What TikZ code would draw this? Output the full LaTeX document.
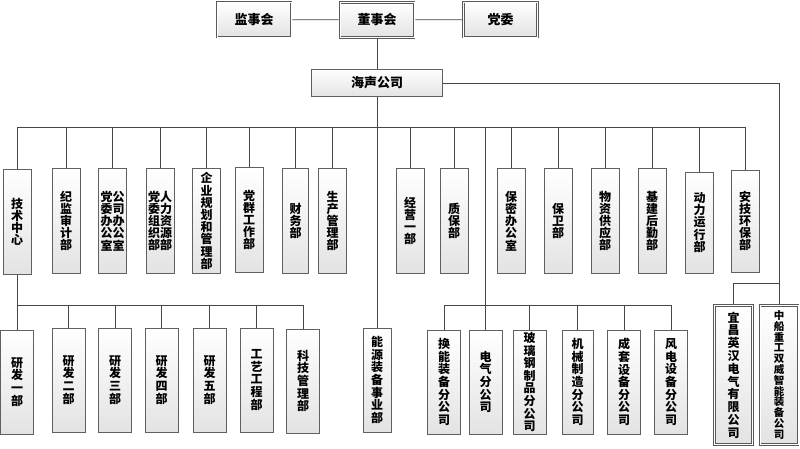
\documentclass[tikz,border=0pt]{standalone}
\usepackage{fontspec}
\setmainfont{Noto Sans CJK SC}
\XeTeXlinebreaklocale "zh"
\XeTeXlinebreakskip=0pt plus 1pt
\newcommand{\vcol}[1]{\parbox{1em}{\centering #1}}
\begin{document}
\begin{tikzpicture}[x=1pt,y=-1pt]
\useasboundingbox[fill=white] (0,0) rectangle (800,449);
\tikzstyle{every node}=[draw=gray!75!black,top color=white,bottom color=gray!22,inner sep=0pt,font=\bfseries]
\tikzstyle{dbl}=[line width=2.6pt,draw=gray!70!black,postaction={draw=white,line width=0.8pt}]
\tikzstyle{head}=[dbl,minimum width=74pt,minimum height=35pt,font=\fontsize{13}{13}\selectfont\bfseries]
\tikzstyle{dept}=[minimum width=28pt,minimum height=105pt,font=\fontsize{12}{12.2}\selectfont\bfseries]
\tikzstyle{unit}=[minimum width=33pt,minimum height=104pt,font=\fontsize{12}{12.6}\selectfont\bfseries]
\tikzstyle{corp}=[dbl,minimum width=38pt,minimum height=139pt]
\tikzstyle{conn}=[draw=gray!55!black,line width=0.8pt]
% top
\node[head](jsh) at (254,19.5) {监事会};
\node[head](dsh) at (377,20) {董事会};
\node[head](dw) at (500.5,19.5) {党委};
\node[line width=1.2pt,minimum width=131pt,minimum height=27pt,font=\fontsize{13}{13}\selectfont\bfseries](hs) at (377,83) {海声公司};
% departments
\node[dept](jszx) at (17,222) {\vcol{技术中心}};
\node[dept](jjsj) at (66,221) {\vcol{纪监审计部}};
\node[dept](gsb) at (112.5,221) {\vcol{党委办公室}\vcol{公司办公室}};
\node[dept](rlzy) at (160,221) {\vcol{党委组织部}\vcol{人力资源部}};
\node[dept](qygh) at (206.5,221) {\vcol{企业规划和管理部}};
\node[dept](dqgz) at (249,220) {\vcol{党群工作部}};
\node[dept,minimum width=26pt](cwb) at (295.5,221) {\vcol{财务部}};
\node[dept](scgl) at (332.5,221) {\vcol{生产管理部}};
\node[dept](jyyb) at (410,221) {\vcol{经营一部}};
\node[dept](zbb) at (454,221) {\vcol{质保部}};
\node[dept](bmb) at (511,221) {\vcol{保密办公室}};
\node[dept](bwb) at (558,221) {\vcol{保卫部}};
\node[dept](wzgy) at (605,221) {\vcol{物资供应部}};
\node[dept](jjhq) at (652,221) {\vcol{基建后勤部}};
\node[dept,minimum height=101pt](dlyx) at (699.5,222.5) {\vcol{动力运行部}};
\node[dept,minimum height=102pt](ajhb) at (745,221) {\vcol{安技环保部}};
% research units
\node[unit](yf1) at (17,382) {\vcol{研发一部}};
\node[unit](yf2) at (68.5,380) {\vcol{研发二部}};
\node[unit](yf3) at (115,380) {\vcol{研发三部}};
\node[unit](yf4) at (161.5,380) {\vcol{研发四部}};
\node[unit](yf5) at (209.5,380) {\vcol{研发五部}};
\node[unit](gygc) at (256.5,380) {\vcol{工艺工程部}};
\node[unit](kjgl) at (303,381) {\vcol{科技管理部}};
\node[unit,minimum width=28pt](ny) at (377,380) {\vcol{能源装备事业部}};
% branches
\node[unit](hn) at (444,382) {\vcol{换能装备分公司}};
\node[unit](dq) at (485.5,382) {\vcol{电气分公司}};
\node[unit](blg) at (529.5,382) {\vcol{玻璃钢制品分公司}};
\node[unit,minimum width=31pt](jxzz) at (577.5,382) {\vcol{机械制造分公司}};
\node[unit](ctsb) at (624,382) {\vcol{成套设备分公司}};
\node[unit](fdsb) at (671,382) {\vcol{风电设备分公司}};
\node[corp,font=\fontsize{12}{12.8}\selectfont\bfseries](yc) at (733.5,375) {\vcol{宜昌英汉电气有限公司}};
\node[corp,font=\fontsize{10.5}{10.8}\selectfont\bfseries](zc) at (779,375) {\vcol{中船重工双威智能装备公司}};
% connectors
\coordinate (bus) at (377,127);
\coordinate (bus1) at (17,305);
\coordinate (bus2) at (486,305);
\coordinate (bus3) at (779,283);
\draw[conn] (jsh) -- (dsh);
\draw[conn] (dsh) -- (dw);
\draw[conn] (dsh) -- (hs);
\draw[conn] (hs.east) -| (zc.north);
\draw[conn] (bus3) -| (yc.north);
\draw[conn] (hs.south) -- (ny.north);
\foreach \n in {jszx,jjsj,gsb,rlzy,qygh,dqgz,cwb,scgl,jyyb,zbb,bmb,bwb,wzgy,jjhq,dlyx,ajhb}
  \draw[conn] (bus) -| (\n.north);
\draw[conn] (bus) -| (dq.north);
\draw[conn] (jszx.south) -- (yf1.north);
\foreach \n in {yf2,yf3,yf4,yf5,gygc,kjgl}
  \draw[conn] (bus1) -| (\n.north);
\foreach \n in {hn,blg,jxzz,ctsb,fdsb}
  \draw[conn] (bus2) -| (\n.north);
\end{tikzpicture}
\end{document}
